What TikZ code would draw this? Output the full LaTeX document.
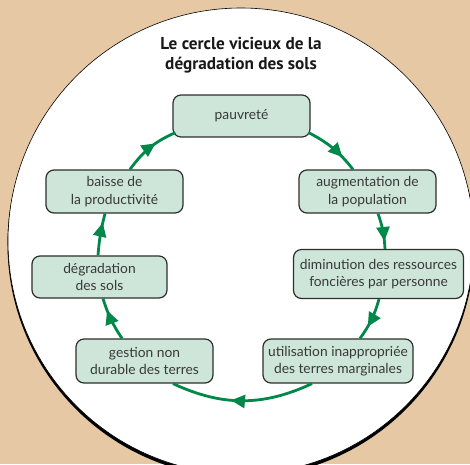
\documentclass[tikz,border=0pt]{standalone}
\usepackage{fontspec}
\setmainfont{Lato}
\newfontfamily\titlefont{PT Sans}
\usetikzlibrary{arrows.meta,decorations.markings}
\definecolor{bgtan}{HTML}{E6C9A4}
\definecolor{boxfill}{HTML}{CDE6D9}
\definecolor{boxline}{HTML}{2E2E2E}
\definecolor{flowgreen}{HTML}{00874A}
\definecolor{txtgray}{HTML}{383838}
\tikzset{
  stepbox/.style={draw=boxline, line width=1.2pt, fill=boxfill, rounded corners=8pt,
    align=center, inner sep=2pt, text=txtgray,
    font=\fontsize{13.8}{17.5}\selectfont},
  flow/.style={draw=flowgreen, line width=2.8pt, postaction={decorate},
    decoration={markings, mark=at position #1 with {\arrow{Triangle[length=14pt,width=13pt]}}}}
}
\begin{document}
\begin{tikzpicture}[x=1pt,y=1pt]
\useasboundingbox (0,0) rectangle (470,-464);
\fill[bgtan] (0,0) rectangle (470,-464);
\begin{scope}
\clip (0,0) rectangle (470,-464);
\fill[black] (241,-244) circle (233.5);
\filldraw[fill=white, draw=black, line width=0.6pt] (241,-241) circle (233);
\end{scope}
\node[align=center, text=black!90, font=\titlefont\bfseries\fontsize{17.2}{20}\selectfont] (title) at (241,-55) {Le cercle vicieux de la\\dégradation des sols};
\node[stepbox, minimum width=137pt, minimum height=42pt] (pauv) at (241.5,-116) {pauvreté};
\node[stepbox, minimum width=137pt, minimum height=43pt] (augm) at (367.5,-191.5) {augmentation de\\la population};
\node[stepbox, minimum width=170pt, minimum height=49pt] (dimin) at (378.5,-274) {diminution des ressources\\foncières par personne};
\node[stepbox, minimum width=150pt, minimum height=44pt] (util) at (338,-361) {utilisation inappropriée\\des terres marginales};
\node[stepbox, minimum width=137pt, minimum height=44pt] (gest) at (144.5,-361) {gestion non\\durable des terres};
\node[stepbox, minimum width=135pt, minimum height=42pt] (degr) at (99.5,-277) {dégradation\\des sols};
\node[stepbox, minimum width=137pt, minimum height=43pt] (baisse) at (114.5,-191.5) {baisse de\\la productivité};
\draw[flow=0.62] ([xshift=15.5pt]baisse.north) to[bend left=15] ([shift={(3pt,5pt)}]pauv.south west);
\draw[flow=0.72] ([shift={(-2pt,5pt)}]pauv.south east) to[bend left=12] ([xshift=-14.5pt]augm.north);
\draw[flow=0.78] ([xshift=10.5pt]augm.south) to[bend left=8] ([xshift=6.5pt]dimin.north);
\draw[flow=0.68] ([xshift=0.5pt]dimin.south) to[bend left=10] ([xshift=22pt]util.north);
\draw[flow=0.58] ([xshift=-26pt]util.south) to[bend left=25] ([xshift=28.5pt]gest.south);
\draw[flow=0.72] ([xshift=-22.5pt]gest.north) to[bend left=8] ([xshift=3.5pt]degr.south);
\draw[flow=0.78] ([xshift=-1.5pt]degr.north) to[bend left=5] ([xshift=-9.5pt]baisse.south);
\end{tikzpicture}
\end{document}
